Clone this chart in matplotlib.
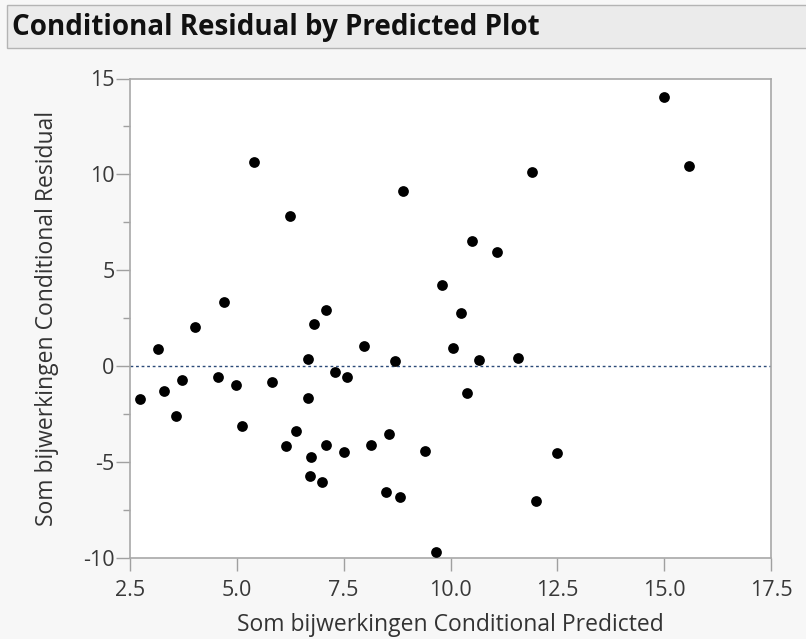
import matplotlib
matplotlib.use("Agg")
import matplotlib.pyplot as plt
from matplotlib.patches import Rectangle
from matplotlib.ticker import MultipleLocator

plt.rcParams['font.family'] = ['Open Sans', 'DejaVu Sans']

title = "Conditional Residual by Predicted Plot"
x_label = "Som bijwerkingen Conditional Predicted"
y_label = "Som bijwerkingen Conditional Residual"

predicted = [2.73, 3.15, 3.30, 3.58, 3.71, 4.01, 4.55, 4.70, 4.97, 5.12,
             5.40, 5.82, 6.16, 6.25, 6.39, 6.67, 6.67, 6.73, 6.71, 6.81,
             7.09, 7.09, 7.00, 7.30, 7.51, 7.57, 7.98, 8.13, 8.49, 8.56,
             8.70, 8.82, 9.41, 9.66, 8.90, 9.81, 10.50, 11.08, 11.91, 15.00,
             15.58, 10.25, 10.05, 10.67, 11.58, 10.39, 12.49, 12.00]
residual = [-1.74, 0.87, -1.30, -2.60, -0.73, 2.02, -0.57, 3.31, -0.98, -3.13,
            10.64, -0.83, -4.18, 7.80, -3.40, 0.35, -1.67, -4.75, -5.74, 2.19,
            2.92, -4.13, -6.04, -0.31, -4.51, -0.57, 1.03, -4.15, -6.58, -3.55,
            0.28, -6.86, -4.44, -9.70, 9.14, 4.21, 6.53, 5.94, 10.13, 14.06,
            10.44, 2.75, 0.92, 0.33, 0.42, -1.39, -4.53, -7.03]

x_ticks = [2.5, 5.0, 7.5, 10.0, 12.5, 15.0, 17.5]
x_tick_labels = ["2.5", "5.0", "7.5", "10.0", "12.5", "15.0", "17.5"]
y_ticks = [-10, -5, 0, 5, 10, 15]
y_tick_labels = ["-10", "-5", "0", "5", "10", "15"]

W, H = 806, 639
fig = plt.figure(figsize=(W / 100, H / 100), dpi=100, facecolor='#f7f7f7')

# title bar
fig.patches.append(Rectangle((7 / W, 1 - 48 / H), 1.0, 43 / H, transform=fig.transFigure,
                             facecolor='#ebebeb', edgecolor='#b4b4b4', linewidth=1.0))
fig.text(12 / W, 1 - 28 / H, title, fontsize=20, fontweight='bold', color='#111111',
         va='center', ha='left')

ax = fig.add_axes([130 / W, 1 - 557.5 / H, (771 - 130) / W, (557.5 - 78.5) / H])
ax.set_facecolor('white')
ax.scatter(predicted, residual, s=60, color='black', zorder=3, linewidths=0)
ax.axhline(0, color='#2b4a78', linestyle=(0, (2, 2)), linewidth=1.0, zorder=2)

ax.set_xlim(2.5, 17.5)
ax.set_ylim(-10, 15)
ax.set_xticks(x_ticks)
ax.set_xticklabels(x_tick_labels)
ax.set_yticks(y_ticks)
ax.set_yticklabels(y_tick_labels)
ax.yaxis.set_minor_locator(MultipleLocator(2.5))

for s in ax.spines.values():
    s.set_color('#a8a8a8')
    s.set_linewidth(1.2)

ax.tick_params(axis='both', which='major', colors='#a0a0a0', labelcolor='#383838',
               labelsize=15.5, length=9, width=1.0)
ax.tick_params(axis='x', which='major', pad=7.5)
ax.tick_params(axis='y', which='minor', colors='#a0a0a0', length=5, width=1.0)
ax.tick_params(axis='y', which='major', length=10, pad=1)

ax.set_xlabel(x_label, fontsize=16.5, color='#333333', labelpad=8)
ax.set_ylabel(y_label, fontsize=16.5, color='#333333', labelpad=17)

fig.savefig('out.png', dpi=100, facecolor=fig.get_facecolor())
